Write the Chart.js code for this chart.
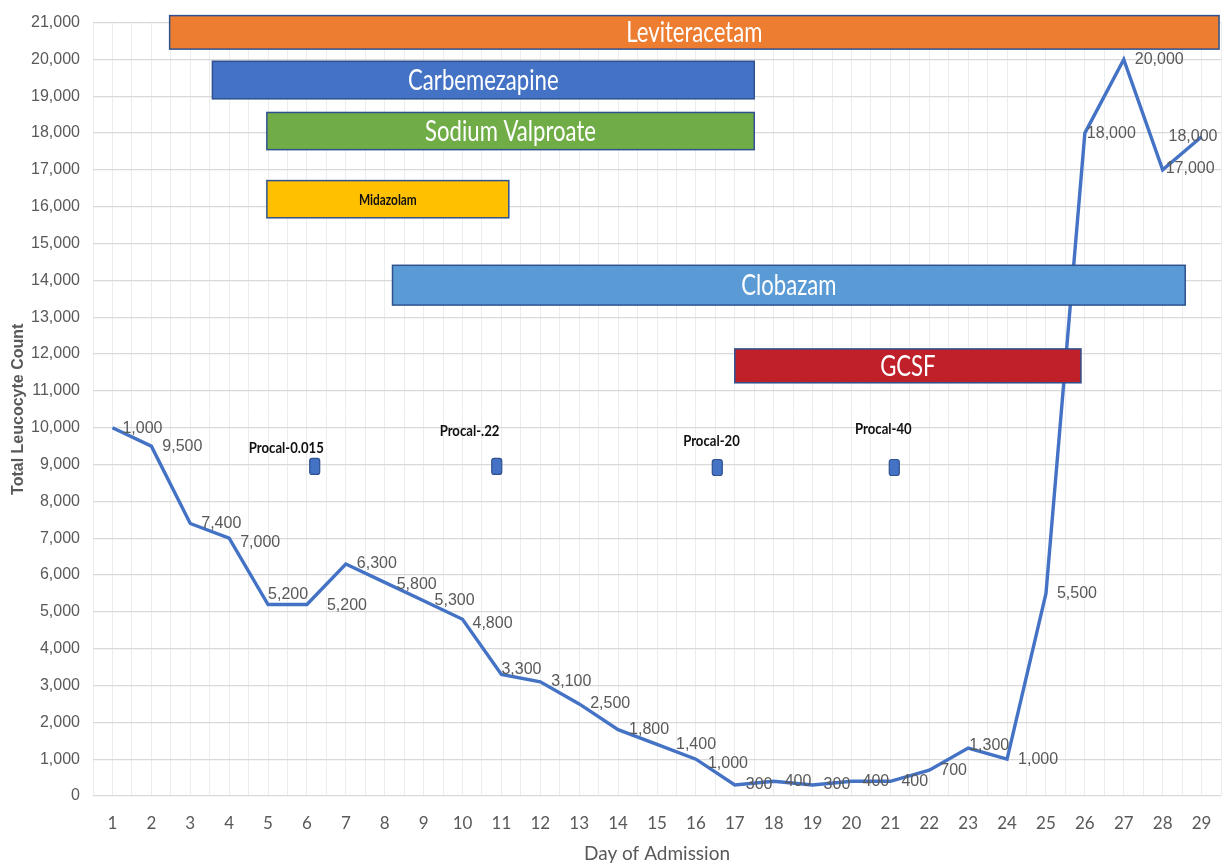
<!DOCTYPE html>
<html lang="en">
<head>
<meta charset="UTF-8">
<title>Total Leucocyte Count by Day of Admission</title>
<script src="https://cdn.jsdelivr.net/npm/chart.js@4"></script>
<style>
  html, body { margin: 0; padding: 0; background: #fff; }
  #wrap { width: 1225px; height: 865px; }
</style>
</head>
<body>
<div id="wrap"><canvas id="wbcChart"></canvas></div>
<script>
// leucocyte count per day
var days = [1, 2, 3, 4, 5, 6, 7, 8, 9, 10, 11, 12, 13, 14, 15, 16, 17, 18, 19, 20, 21, 22, 23, 24, 25, 26, 27, 28, 29];
var wbcCount = [10000, 9500, 7400, 7000, 5200, 5200, 6300, 5800, 5300, 4800, 3300, 3100, 2500, 1800, 1400, 1000,
                300, 400, 300, 400, 400, 700, 1300, 1000, 5500, 18000, 20000, 17000, 17900];
// labels as printed on the original
var pointLabels = ['1,000', '9,500', '7,400', '7,000', '5,200', '5,200', '6,300', '5,800', '5,300', '4,800', '3,300',
                   '3,100', '2,500', '1,800', '1,400', '1,000', '300', '400', '300', '400', '400', '700', '1,300',
                   '1,000', '5,500', '18,000', '20,000', '17,000', '18,000'];

// drug courses (day from / to, count band)
var drugNames = ['Leviteracetam', 'Carbemezapine', 'Sodium Valproate', 'Midazolam', 'Clobazam', 'GCSF'];
var drugStartDay = [2.47, 3.57, 4.97, 4.97, 8.2, 17.0];
var drugEndDay = [29.45, 17.5, 17.5, 11.19, 28.58, 25.9];
var drugCountLow = [20280, 18930, 17550, 15700, 13330, 11220];
var drugCountHigh = [21190, 19950, 18560, 16710, 14410, 12140];

// procalcitonin results
var procalLabels = ['Procal-0.015', 'Procal-.22', 'Procal-20', 'Procal-40'];
var procalDay = [6.2, 10.88, 16.55, 21.1];
var procalCount = [8950, 8950, 8920, 8920];
var procalLabelDay = [5.47, 10.18, 16.4, 20.82];
var procalLabelCount = [9445, 9915, 9655, 9970];

var drugFill = ['#ED7D31', '#4472C4', '#70AD47', '#FFC000', '#5B9BD5', '#C0202A'];
var drugText = ['#fff', '#fff', '#fff', '#111', '#fff', '#fff'];
var drugFont = ['28px Lato', '28px Lato', '28px Lato', 'bold 15px Lato', '28px Lato', '28px Lato'];

// per-label nudges [dx, dy] where the default (11, 0) doesn't fit
var labelNudge = {0: [10, 1], 3: [11, 4], 4: [0, -10], 5: [20, 1], 7: [12, 2], 9: [10, 4], 10: [0, -5],
                  14: [19, 0], 15: [12, 4], 22: [1, -3], 25: [2, 1], 27: [3, -1], 28: [-33, 0]};

function squeezedText(ctx, text, cx, cy, sx) {
    ctx.save();
    ctx.translate(cx, cy);
    ctx.scale(sx, 1);
    ctx.textAlign = 'center';
    ctx.textBaseline = 'middle';
    ctx.fillText(text, 0, 0);
    ctx.restore();
}

var overlay = {
    id: 'overlay',
    afterDatasetsDraw: function (chart) {
        var ctx = chart.ctx, xs = chart.scales.x, ys = chart.scales.y;
        ctx.save();

        // value labels
        ctx.fillStyle = '#595959';
        ctx.font = '16px "Liberation Sans", Arial, sans-serif';
        ctx.textAlign = 'left';
        ctx.textBaseline = 'middle';
        days.forEach(function (d, i) {
            var n = labelNudge[i] || [11, 0];
            ctx.fillText(pointLabels[i], xs.getPixelForValue(d) + n[0], ys.getPixelForValue(wbcCount[i]) + n[1]);
        });

        // drug bars
        drugNames.forEach(function (name, i) {
            var l = xs.getPixelForValue(drugStartDay[i]);
            var r = xs.getPixelForValue(drugEndDay[i]);
            var t = ys.getPixelForValue(drugCountHigh[i]);
            var b = ys.getPixelForValue(drugCountLow[i]);
            ctx.fillStyle = drugFill[i];
            ctx.fillRect(l, t, r - l, b - t);
            ctx.strokeStyle = '#2F528F';
            ctx.lineWidth = 1.5;
            ctx.strokeRect(l, t, r - l, b - t);
            ctx.fillStyle = drugText[i];
            ctx.font = drugFont[i];
            squeezedText(ctx, name, (l + r) / 2, (t + b) / 2 + 1, 0.79);
        });

        // procal markers
        procalLabels.forEach(function (txt, i) {
            var cx = xs.getPixelForValue(procalDay[i]);
            var cy = ys.getPixelForValue(procalCount[i]);
            ctx.beginPath();
            ctx.roundRect(cx - 5, cy - 8, 10, 16, 2.5);
            ctx.fillStyle = '#4472C4';
            ctx.fill();
            ctx.strokeStyle = '#2F528F';
            ctx.lineWidth = 1.2;
            ctx.stroke();
            ctx.fillStyle = '#111';
            ctx.font = 'bold 16px Lato';
            squeezedText(ctx, txt, xs.getPixelForValue(procalLabelDay[i]), ys.getPixelForValue(procalLabelCount[i]), 0.82);
        });
        ctx.restore();
    }
};

new Chart(document.getElementById('wbcChart'), {
    type: 'line',
    data: {
        datasets: [{
            label: 'Total Leucocyte Count',
            data: days.map(function (d, i) { return {x: d, y: wbcCount[i]}; }),
            borderColor: '#4472C4',
            borderWidth: 3.4,
            pointRadius: 0,
            tension: 0,
            fill: false
        }]
    },
    options: {
        responsive: true,
        maintainAspectRatio: false,
        animation: false,
        layout: { padding: { top: 19, right: 4, bottom: 0, left: 0 } },
        plugins: { legend: { display: false }, tooltip: { enabled: false } },
        scales: {
            x: {
                type: 'linear',
                min: 0.5,
                max: 29.5,
                grid: { color: '#eceeee', lineWidth: 1, drawTicks: false },
                border: { display: false },
                ticks: {
                    stepSize: 0.5,
                    autoSkip: false,
                    maxRotation: 0,
                    padding: 17,
                    color: '#595959',
                    font: { family: "'Liberation Sans Narrow', Lato, sans-serif", size: 17 },
                    callback: function (v) { return Number.isInteger(v) ? String(v) : ''; }
                },
                title: {
                    display: true,
                    text: 'Day of Admission',
                    color: '#595959',
                    font: { family: "'Liberation Sans Narrow', Lato, sans-serif", size: 19 },
                    padding: { top: 0, bottom: 0 }
                },
                afterFit: function (s) {
                    s.height = 69;
                    s.paddingLeft = 0;
                    s.paddingRight = 0;
                }
            },
            y: {
                min: 0,
                max: 21000,
                grid: { color: '#d9d9d9', lineWidth: 1.3, drawTicks: false },
                border: { display: false },
                ticks: {
                    stepSize: 1000,
                    padding: 13,
                    color: '#595959',
                    font: { family: "'Liberation Sans', Arial, sans-serif", size: 16 }
                },
                title: {
                    display: true,
                    text: 'Total Leucocyte Count',
                    color: '#595959',
                    font: { family: "'Liberation Sans', Arial, sans-serif", size: 16, weight: 'bold' },
                    padding: { top: 9, bottom: 0 }
                },
                afterFit: function (s) { s.width = 93; }
            }
        }
    },
    plugins: [overlay]
});
</script>
</body>
</html>
